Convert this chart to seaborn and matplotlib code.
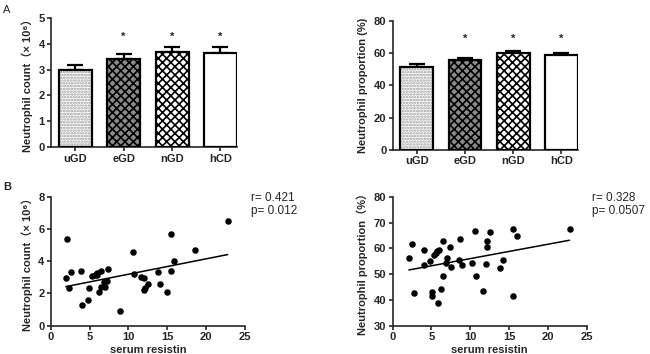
import numpy as np
import seaborn as sns
import matplotlib.pyplot as plt
from matplotlib.colors import to_rgba

groups = ["uGD", "eGD", "nGD", "hCD"]
count_mean = [3.0, 3.41, 3.67, 3.65]
count_sem = [0.17, 0.17, 0.21, 0.2]
prop_mean = [51.5, 55.5, 59.8, 58.6]
prop_sem = [1.4, 1.4, 1.1, 1.2]
signif = ["", "*", "*", "*"]

resistin_a = [1.93, 2.1, 2.4, 2.66, 3.9, 3.99, 4.8, 4.97, 5.3, 5.7, 5.9, 5.96, 6.26, 6.43,
              6.5, 6.8, 6.95, 7.3, 7.42, 8.96, 10.55, 10.76, 11.6, 12.05, 11.96, 12.1,
              12.5, 13.8, 14.1, 15.0, 15.48, 15.48, 15.9, 18.5, 22.77]
count_a = [2.93, 5.41, 2.36, 3.35, 3.41, 1.3, 1.59, 2.31, 3.1, 3.14, 3.29, 3.12, 2.11, 3.41,
           2.42, 2.69, 2.42, 2.79, 3.55, 0.91, 4.59, 3.2, 3.0, 2.93, 2.21, 2.31,
           2.6, 3.35, 2.6, 2.11, 5.68, 3.41, 4.01, 4.71, 6.51]

resistin_b = [2.1, 2.45, 2.7, 4.0, 4.08, 4.8, 5.03, 5.03, 5.37, 5.58, 5.76, 5.93, 5.88, 6.3,
              6.44, 6.5, 6.83, 6.96, 7.43, 7.47, 8.68, 8.55, 8.98, 10.2, 10.57, 10.8, 11.68,
              12.07, 12.1, 12.16, 12.59, 13.83, 14.17, 15.46, 15.46, 15.98, 22.8]
prop_b = [56.2, 61.8, 42.8, 59.5, 53.5, 55.1, 43.2, 41.6, 57.4, 58.3, 58.9, 59.2, 38.8, 44.3,
          62.7, 49.4, 54.5, 56.1, 60.5, 52.9, 63.7, 55.6, 53.5, 54.4, 66.8, 49.3, 43.4,
          53.8, 60.5, 62.8, 66.4, 52.5, 55.5, 67.6, 41.5, 64.8, 67.7]

stats_a = ["r= 0.421", "p= 0.012"]
stats_b = ["r= 0.328", "p= 0.0507"]

sns.set_style("ticks")
plt.rcParams["font.family"] = ["Liberation Sans", "Noto Sans CJK SC", "DejaVu Sans"]
plt.rcParams["hatch.linewidth"] = 1.2

fig = plt.figure(figsize=(6.5, 3.54), dpi=100)
ax1 = fig.add_axes([0.0785, 0.584, 0.286, 0.366])
ax2 = fig.add_axes([0.604, 0.576, 0.285, 0.366])
ax3 = fig.add_axes([0.078, 0.080, 0.299, 0.364])
ax4 = fig.add_axes([0.604, 0.080, 0.2985, 0.364])

# facecolor, hatch, hatch colour
styles = [("white", "......", "#9a9a9a"), ("#8a8a8a", "xxxx", "black"),
          ("white", "xxxx", "black"), ("white", "", "black")]


def bar_panel(ax, means, sems, ylim, yticks, ylabel, star_y):
    sns.barplot(x=groups, y=means, ax=ax, width=0.68, color="white",
                edgecolor="black", linewidth=1.6, zorder=3)
    for patch, (fc, hatch, hc) in zip(ax.patches, styles):
        patch.set_facecolor(fc)
        patch.set_hatch(hatch)
        patch._hatch_color = to_rgba(hc)
    ax.errorbar(range(len(groups)), means, yerr=[np.zeros(len(means)), sems],
                fmt="none", ecolor="black", elinewidth=1.6, capsize=5.5,
                capthick=1.6, zorder=2)
    for i, s in enumerate(signif):
        if s:
            ax.text(i, star_y, s, ha="center", va="center", fontsize=8, fontweight="bold")
    ax.set_xlim(-0.5, 3.34)
    ax.set_ylim(*ylim)
    ax.set_yticks(yticks)
    ax.set_ylabel(ylabel, fontsize=8, fontweight="bold", labelpad=4)


def scatter_panel(ax, x, y, ylim, yticks, ylabel, stats):
    sns.regplot(x=x, y=y, ax=ax, ci=None, truncate=True, color="black",
                scatter_kws=dict(s=22, linewidths=0, alpha=1),
                line_kws=dict(linewidth=1.1))
    ax.set_xlim(0, 25)
    ax.set_xticks([0, 5, 10, 15, 20, 25])
    ax.set_ylim(*ylim)
    ax.set_yticks(yticks)
    ax.set_ylabel(ylabel, fontsize=8, fontweight="bold", labelpad=4)
    ax.set_xlabel("serum resistin", fontsize=8, fontweight="bold", labelpad=2)
    ax.text(1.03, 1.04, stats[0] + "\n" + stats[1], transform=ax.transAxes,
            ha="left", va="top", fontsize=8.5, linespacing=1.15)


bar_panel(ax1, count_mean, count_sem, (0, 5), range(0, 6),
          "Neutrophil count\uff08\u00d7 10\u2076\uff09", 4.25)
bar_panel(ax2, prop_mean, prop_sem, (0, 80), range(0, 81, 20),
          "Neutrophil proportion (%)", 68.5)
scatter_panel(ax3, resistin_a, count_a, (0, 8), range(0, 9, 2),
              "Neutrophil count\uff08\u00d7 10\u2076\uff09", stats_a)
scatter_panel(ax4, resistin_b, prop_b, (30, 80), range(30, 81, 10),
              "Neutrophil proportion\uff08%\uff09", stats_b)

for ax in (ax1, ax2, ax3, ax4):
    sns.despine(ax=ax)
    for sp in ("left", "bottom"):
        ax.spines[sp].set_linewidth(1.2)
    ax.tick_params(length=3, width=1.2, labelsize=8, pad=1.5)
    for lab in ax.get_xticklabels() + ax.get_yticklabels():
        lab.set_fontweight("bold")

fig.text(0.005, 0.985, "A", fontsize=8, va="top")
fig.text(0.005, 0.485, "B", fontsize=8, fontweight="bold", va="top")

fig.savefig("out.png", dpi=100)
